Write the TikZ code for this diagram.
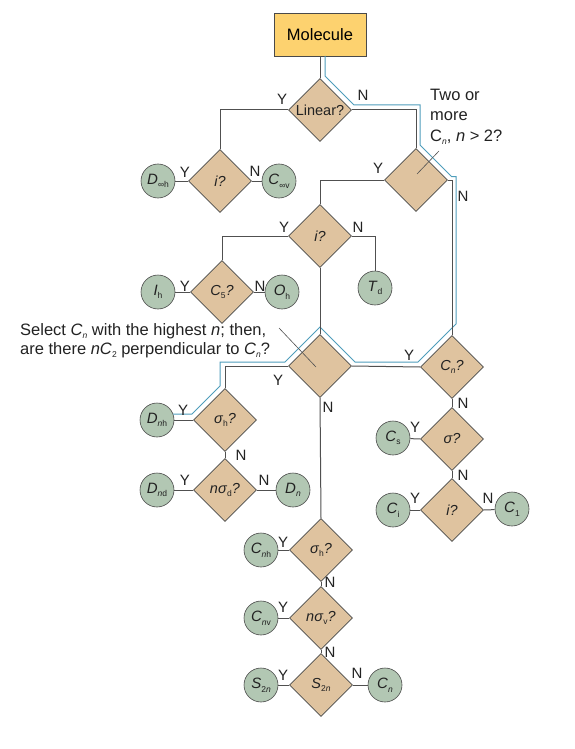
\documentclass[tikz,border=0pt]{standalone}
\usepackage{fontspec}
\setmainfont{Liberation Sans}
\usetikzlibrary{shapes.geometric}
\definecolor{boxfill}{HTML}{FDD26F}
\definecolor{diafill}{HTML}{DFC39F}
\definecolor{circfill}{HTML}{B2C7B3}
\definecolor{edgecol}{HTML}{4A4A4A}
\definecolor{linecol}{HTML}{505050}
\definecolor{hlblue}{HTML}{4E9DBB}
\definecolor{labcol}{HTML}{222222}
\newcommand\sbx[1]{\raisebox{-0.45ex}{\fontsize{8.5}{9}\selectfont #1}}
\tikzset{
 molbox/.style={draw=edgecol, fill=boxfill, minimum width=92pt, minimum height=43pt, inner sep=0pt, font=\fontsize{16.5}{18}\selectfont, line width=0.7pt},
 dia/.style={diamond, aspect=1, draw=edgecol, fill=diafill, minimum width=63pt, minimum height=63pt, inner sep=0pt, font=\fontsize{14.5}{16}\selectfont, line width=0.6pt, text=labcol},
 circ/.style={circle, draw=edgecol, fill=circfill, minimum size=34pt, inner sep=0pt, font=\fontsize{15}{17}\selectfont, line width=0.6pt, text=labcol},
 conn/.style={draw=linecol, line width=1pt},
 hl/.style={draw=hlblue, line width=1pt},
 yn/.style={font=\fontsize{15}{17}\selectfont, text=labcol, inner sep=0pt},
 ann/.style={font=\fontsize{16.5}{20}\selectfont, text=labcol, inner sep=0pt, anchor=base west},
 lead/.style={draw=linecol, line width=0.6pt},
}
\begin{document}
\begin{tikzpicture}[x=1pt,y=-1pt]
\useasboundingbox (0,0) rectangle (575,749);
% nodes
\node[molbox] (mol) at (320,34.5) {Molecule};
\node[dia] (lin) at (320,110) {Linear?};
\node[dia] (i1) at (220,181) {\textit{i?}};
\node[dia] (two) at (416,180) {};
\node[dia] (i2) at (320,236) {\textit{i?}};
\node[dia] (c5) at (222,292) {\textit{C}\sbx{5}\textit{?}};
\node[dia] (big) at (320,366) {};
\node[dia] (cnq) at (452,367) {\textit{C\sbx{n}?}};
\node[dia] (sig) at (452,439) {\textit{σ?}};
\node[dia] (i3) at (452,510) {\textit{i?}};
\node[dia] (shu) at (225,420) {\textit{σ}\sbx{h}\textit{?}};
\node[dia] (nsd) at (225,490) {\textit{nσ}\sbx{d}\textit{?}};
\node[dia] (shl) at (321,550) {\textit{σ}\sbx{h}\textit{?}};
\node[dia] (nsv) at (321,618) {\textit{nσ}\sbx{v}\textit{?}};
\node[dia] (s2d) at (321,685) {\textit{S}\sbx{2\textit{n}}};
% circles
\node[circ] (dinf) at (158,181) {\textit{D}\sbx{∞h}};
\node[circ] (cinf) at (279,181) {\textit{C}\sbx{∞v}};
\node[circ] (ih) at (158,292) {\textit{I}\sbx{h}};
\node[circ] (oh) at (282,292) {\textit{O}\sbx{h}};
\node[circ] (td) at (375,288) {\textit{T}\sbx{d}};
\node[circ] (dnh) at (157,420) {\textit{D}\sbx{\textit{n}h}};
\node[circ] (dnd) at (157,490) {\textit{D}\sbx{\textit{n}d}};
\node[circ] (dn) at (293,490) {\textit{D}\sbx{\textit{n}}};
\node[circ] (cs) at (393,438) {\textit{C}\sbx{s}};
\node[circ] (ci) at (393,510) {\textit{C}\sbx{i}};
\node[circ] (c1) at (512,509) {\textit{C}\sbx{1}};
\node[circ] (cnh) at (261,550) {\textit{C}\sbx{\textit{n}h}};
\node[circ] (cnv) at (261,618) {\textit{C}\sbx{\textit{n}v}};
\node[circ] (s2c) at (261,685) {\textit{S}\sbx{2\textit{n}}};
\node[circ] (cnc) at (385,685) {\textit{C}\sbx{\textit{n}}};
% highlight path
\draw[hl] (325,56) -- (325,76) -- (354,105) -- (420,105) -- (420,145) -- (451.5,176.5) -- (456,176.5) -- (456,324) -- (418,362) -- (355,362) -- (320,327) -- (285,362) -- (220,362) -- (220,386) -- (192,414) -- (173,414);
% connectors
\draw[conn] (mol.south) -- (lin.north);
\draw[conn] (lin.east) -| (two.north);
\draw[conn] (lin.west) -| (i1.north);
\draw[conn] (i1.west) -- (dinf);
\draw[conn] (i1.east) -- (cinf);
\draw[conn] (two.west) -| (i2.north);
\draw[conn] (two.east) -| (cnq.north);
\draw[conn] (i2.west) -| (c5.north);
\draw[conn] (i2.east) -| (td.north);
\draw[conn] (c5.west) -- (ih);
\draw[conn] (c5.east) -- (oh);
\draw[conn] (i2.south) -- (big.north);
\draw[conn] (cnq.west) -- (big.east);
\draw[conn] (big.west) -| (shu.north);
\draw[conn] (big.south) -- (shl.north);
\draw[conn] (shu.west) -- (dnh);
\draw[conn] (shu.south) -- (nsd.north);
\draw[conn] (nsd.west) -- (dnd);
\draw[conn] (nsd.east) -- (dn);
\draw[conn] (cnq.south) -- (sig.north);
\draw[conn] (sig.west) -- (cs);
\draw[conn] (sig.south) -- (i3.north);
\draw[conn] (i3.west) -- (ci);
\draw[conn] (i3.east) -- (c1);
\draw[conn] (shl.west) -- (cnh);
\draw[conn] (shl.south) -- (nsv.north);
\draw[conn] (nsv.west) -- (cnv);
\draw[conn] (nsv.south) -- (s2d.north);
\draw[conn] (s2d.west) -- (s2c);
\draw[conn] (s2d.east) -- (cnc);
% Y / N labels
\node[yn] (l1) at (282,99) {Y};
\node[yn] (l2) at (363,95) {N};
\node[yn] (l3) at (185,172) {Y};
\node[yn] (l4) at (255,171) {N};
\node[yn] (l5) at (378,168) {Y};
\node[yn] (l6) at (463,196) {N};
\node[yn] (l7) at (284,227) {Y};
\node[yn] (l8) at (358,227) {N};
\node[yn] (l9) at (185,286) {Y};
\node[yn] (l10) at (260,286) {N};
\node[yn] (l11) at (278,380) {Y};
\node[yn] (l12) at (328,407) {N};
\node[yn] (l13) at (409,355) {Y};
\node[yn] (l14) at (463,403) {N};
\node[yn] (l15) at (415,427) {Y};
\node[yn] (l16) at (463,475) {N};
\node[yn] (l17) at (415,498) {Y};
\node[yn] (l18) at (488,498) {N};
\node[yn] (l19) at (183,410) {Y};
\node[yn] (l20) at (241,455) {N};
\node[yn] (l21) at (185,480) {Y};
\node[yn] (l22) at (264,480) {N};
\node[yn] (l23) at (283,542) {Y};
\node[yn] (l24) at (330,582) {N};
\node[yn] (l25) at (283,607) {Y};
\node[yn] (l26) at (330,652) {N};
\node[yn] (l27) at (283,675) {Y};
\node[yn] (l28) at (357,673) {N};
% annotations
\node[ann] (t1) at (430,101) {Two or};
\node[ann] (t2) at (430,121) {more};
\node[ann] (t3) at (430,141) {C\sbx{\textit{n}},\ \textit{n} > 2?};
\coordinate (a1) at (439,151);
\coordinate (a2) at (417,174);
\draw[lead] (a1) -- (a2);
\node[ann] (s1) at (20,335) {Select \textit{C}\sbx{\textit{n}} with the highest \textit{n}; then,};
\node[ann] (s2) at (20,354) {are there \textit{nC}\sbx{2} perpendicular to \textit{C}\sbx{\textit{n}}?};
\coordinate (b1) at (279,328);
\coordinate (b2) at (316,367);
\draw[lead] (b1) -- (b2);
\end{tikzpicture}
\end{document}
